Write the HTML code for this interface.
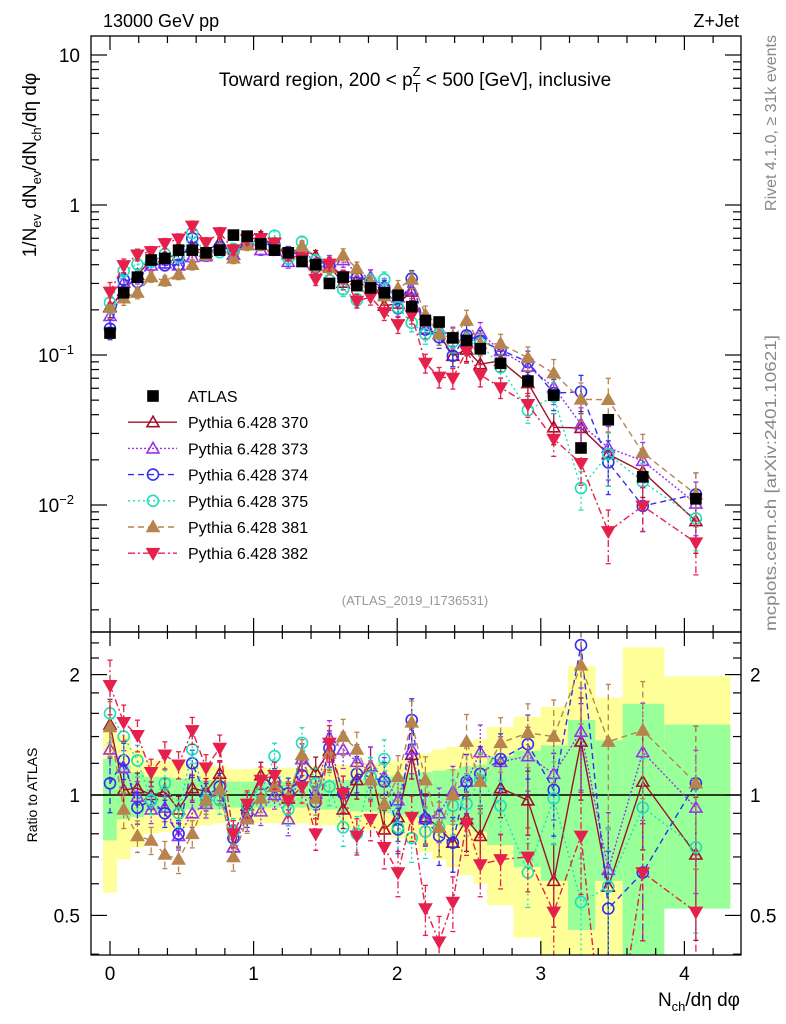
<!DOCTYPE html>
<html><head><meta charset="utf-8"><style>
html,body{margin:0;padding:0;background:#fff;overflow:hidden;width:786px;height:1024px;}
svg{display:block;font-family:"Liberation Sans",sans-serif;}
</style></head><body>
<svg id="c" width="786" height="1024" viewBox="0 0 786 1024" xmlns="http://www.w3.org/2000/svg">
<defs>
<clipPath id="cm"><rect x="91" y="36" width="650" height="596"/></clipPath>
<clipPath id="cr"><rect x="91" y="632" width="650" height="323"/></clipPath>
</defs>
<g id="bands" clip-path="url(#cr)"></g>
<g id="ratio" clip-path="url(#cr)"></g>
<g id="main" clip-path="url(#cm)"></g>
<g id="axes"></g>
<text x="103" y="27" font-size="18">13000 GeV pp</text>
<text x="739" y="27" font-size="18" text-anchor="end">Z+Jet</text>
<text x="415" y="86" font-size="19" text-anchor="middle">Toward region, 200 &lt; p<tspan font-size="13" dy="6">T</tspan><tspan font-size="13" dx="-8" dy="-16">Z</tspan><tspan dy="10"> &lt; 500 [GeV], inclusive</tspan></text>
<text x="415" y="605" font-size="13" fill="#999" text-anchor="middle">(ATLAS_2019_I1736531)</text>
<text transform="translate(776,35) rotate(-90)" font-size="16" fill="#888" text-anchor="end">Rivet 4.1.0, ≥ 31k events</text>
<text transform="translate(776,631) rotate(-90)" font-size="16" fill="#888" textLength="296" lengthAdjust="spacingAndGlyphs">mcplots.cern.ch [arXiv:2401.10621]</text>
<text transform="translate(36,165) rotate(-90)" font-size="19" text-anchor="middle">1/N<tspan font-size="13" dy="5">ev</tspan><tspan dy="-5"> dN</tspan><tspan font-size="13" dy="5">ev</tspan><tspan dy="-5">/dN</tspan><tspan font-size="13" dy="5">ch</tspan><tspan dy="-5">/dη dφ</tspan></text>
<text transform="translate(37,795) rotate(-90)" font-size="14" text-anchor="middle">Ratio to ATLAS</text>
<text x="740" y="1006" font-size="19" text-anchor="end">N<tspan font-size="13" dy="5">ch</tspan><tspan dy="-5">/dη dφ</tspan></text>
<g id="legend"></g>
</svg>
<script>
const xNarrow = Array.from({length:28},(_,i)=>i*0.0955);
const xCenters = xNarrow.concat([2.72,2.91,3.09,3.28,3.47,3.71,4.08]);
const atlas = [0.14,0.26,0.33,0.43,0.44,0.50,0.50,0.48,0.50,0.63,0.62,0.55,0.50,0.48,0.42,0.40,0.30,0.33,0.29,0.28,0.26,0.25,0.21,0.17,0.166,0.13,0.125,0.11,0.088,0.067,0.054,0.024,0.037,0.0154,0.011];
const r370 = [1.50,1.03,1.04,1.0,1.02,0.92,1.04,1.02,1.13,0.74,0.94,1.12,1.05,0.98,1.23,1.14,1.29,0.92,1.09,1.18,0.82,0.88,1.26,0.88,0.83,0.76,0.87,0.79,1.04,0.97,0.61,1.36,0.59,1.08,0.71];
const r373 = [1.30,1.17,0.99,0.92,0.93,0.79,0.90,0.95,1.03,0.74,0.88,0.91,1.0,0.87,1.23,1.01,1.39,1.30,1.21,1.18,1.11,0.97,1.30,0.87,0.90,1.02,1.08,1.28,1.21,1.25,1.13,1.44,0.65,1.28,0.93];
const r374 = [1.07,1.22,0.93,0.97,0.90,0.80,1.20,0.99,1.05,0.78,0.90,1.01,1.08,1.01,1.12,0.96,1.31,1.01,1.13,1.11,1.08,0.82,1.54,0.87,0.79,0.76,1.08,1.13,1.23,1.34,1.03,2.37,0.52,0.64,1.07];
const r375 = [1.60,1.40,1.22,0.97,1.07,0.90,1.30,0.97,0.97,0.81,0.94,1.01,1.25,0.92,1.35,1.07,1.05,0.83,0.80,1.11,1.23,0.83,0.78,0.81,0.83,0.94,0.95,1.09,0.94,0.64,0.98,0.54,0.59,0.93,0.74];
const r381 = [1.48,0.92,0.79,0.77,0.71,0.69,0.80,0.97,1.03,0.70,0.87,0.98,1.05,0.99,1.26,0.98,1.27,1.40,1.30,1.09,0.95,1.11,1.52,1.09,0.83,1.0,1.36,1.08,1.35,1.43,1.40,2.11,1.36,1.45,1.07];
const r382 = [1.88,1.52,1.41,1.14,1.26,1.19,1.45,1.17,1.31,0.80,0.95,1.09,1.12,0.97,1.05,0.80,1.35,1.01,0.79,0.87,0.74,0.64,0.88,0.52,0.43,0.54,0.85,0.67,0.69,0.70,0.51,0.79,0.18,0.64,0.51];
const relErr = [0.12,0.08,0.07,0.06,0.06,0.06,0.06,0.06,0.06,0.06,0.06,0.06,0.06,0.07,0.07,0.07,0.08,0.08,0.08,0.09,0.09,0.1,0.1,0.11,0.12,0.12,0.13,0.13,0.12,0.14,0.18,0.22,0.3,0.25,0.3];
const yellowHi = [1.45,1.41,1.30,1.22,1.22,1.21,1.2,1.19,1.18,1.16,1.16,1.17,1.17,1.17,1.17,1.18,1.18,1.19,1.2,1.2,1.21,1.22,1.24,1.27,1.3,1.32,1.35,1.38,1.48,1.57,1.66,2.1,1.75,2.34,1.98];
const yellowLo = [0.57,0.69,0.74,0.80,0.81,0.82,0.83,0.84,0.85,0.86,0.86,0.85,0.85,0.85,0.85,0.84,0.84,0.83,0.82,0.82,0.80,0.78,0.76,0.72,0.69,0.66,0.63,0.60,0.53,0.44,0.38,0.38,0.38,0.38,0.53];
const greenHi = [1.23,1.19,1.14,1.11,1.11,1.10,1.10,1.09,1.09,1.08,1.08,1.08,1.08,1.08,1.08,1.09,1.09,1.09,1.1,1.1,1.11,1.12,1.13,1.14,1.15,1.16,1.18,1.19,1.25,1.29,1.33,1.54,1.37,1.69,1.5];
const greenLo = [0.77,0.87,0.88,0.91,0.91,0.91,0.92,0.92,0.92,0.93,0.93,0.93,0.93,0.93,0.93,0.92,0.92,0.92,0.91,0.91,0.90,0.89,0.88,0.87,0.85,0.84,0.83,0.81,0.75,0.66,0.61,0.46,0.61,0.38,0.52];
const binEdges = Array.from({length:29},(_,i)=>(i-0.5)*0.0955).concat([2.81,3.0,3.19,3.38,3.57,3.86,4.32]);

const NS='http://www.w3.org/2000/svg';
const X = v => 110 + v*143.6;
const YM = v => 205 - 150*Math.log10(v);
const YR = r => 795 - 400*Math.log10(r);
function mk(tag, attrs, parent){const e=document.createElementNS(NS,tag);for(const k in attrs)e.setAttribute(k,attrs[k]);parent.appendChild(e);return e;}

const series = [
 {name:'370',ratio:r370,color:'#a0102a',dash:'',marker:'tri',fill:false},
 {name:'373',ratio:r373,color:'#9933ee',dash:'2,2',marker:'tri',fill:false},
 {name:'374',ratio:r374,color:'#3030ee',dash:'6,4',marker:'circ',fill:false},
 {name:'375',ratio:r375,color:'#20ddbb',dash:'2,3',marker:'circ',fill:false},
 {name:'381',ratio:r381,color:'#b8844e',dash:'6,4',marker:'tri',fill:true},
 {name:'382',ratio:r382,color:'#e6204c',dash:'7,3,2,3',marker:'dtri',fill:true}
];
function marker(g,type,x,y,color,fill){
  let e;
  if(type==='tri') e=mk('path',{d:`M${x},${y-6} L${x+6},${y+4.5} L${x-6},${y+4.5} Z`},g);
  else if(type==='dtri') e=mk('path',{d:`M${x},${y+6} L${x+6},${y-4.5} L${x-6},${y-4.5} Z`},g);
  else if(type==='circ') e=mk('circle',{cx:x,cy:y,r:5.5},g);
  else e=mk('rect',{x:x-5,y:y-5,width:10,height:10},g);
  e.setAttribute('fill',fill?color:'none');
  e.setAttribute('stroke',color);
  e.setAttribute('stroke-width','1.6');
  return e;
}

const bands=document.getElementById('bands');
for(let i=0;i<xCenters.length;i++){
  const x0=X(binEdges[i]), x1=X(binEdges[i+1]);
  const y=mk('rect',{x:x0,y:YR(yellowHi[i]),width:x1-x0,height:YR(yellowLo[i])-YR(yellowHi[i]),fill:'#ffff99'},bands);
  
  
  const g=mk('rect',{x:x0,y:YR(greenHi[i]),width:x1-x0,height:YR(greenLo[i])-YR(greenHi[i]),fill:'#99ff99'},bands);
  
  
}
const one=mk('line',{x1:91,x2:741,y1:YR(1),y2:YR(1),stroke:'#000','stroke-width':1.5},bands);



const mainG=document.getElementById('main'), ratG=document.getElementById('ratio');
series.forEach(s=>{
  [[mainG,i=>YM(atlas[i]*s.ratio[i])],[ratG,i=>YR(s.ratio[i])]].forEach(([par,yf],pi)=>{
    const g=mk('g',{},par);
    
    
    const pts=xCenters.map((x,i)=>X(x)+','+yf(i)).join(' ');
    mk('polyline',{points:pts,fill:'none',stroke:s.color,'stroke-width':1.4,'stroke-dasharray':s.dash},g);
    xCenters.forEach((x,i)=>{
      const v = pi? s.ratio[i] : atlas[i]*s.ratio[i];
      const yf2 = pi? YR : YM;
      const e=relErr[i]*1.3;
      mk('line',{x1:X(x),x2:X(x),y1:yf2(v*(1+e)),y2:yf2(Math.max(v*(1-e),1e-4)),stroke:s.color,'stroke-width':1.3,'stroke-dasharray':s.dash},g);
      mk('line',{x1:X(x)-2.5,x2:X(x)+2.5,y1:yf2(v*(1+e)),y2:yf2(v*(1+e)),stroke:s.color,'stroke-width':1.3},g);
      mk('line',{x1:X(x)-2.5,x2:X(x)+2.5,y1:yf2(v*(1-e)),y2:yf2(v*(1-e)),stroke:s.color,'stroke-width':1.3},g);
      const m=marker(g,s.marker,X(x),yf(i),s.color,s.fill);
      
      
    });
  });
});
const ag=mk('g',{},mainG);


xCenters.forEach((x,i)=>{
  const m=marker(ag,'sq',X(x),YM(atlas[i]),'#000',true);
  
  
});

const ax=document.getElementById('axes');
mk('rect',{x:91,y:36,width:650,height:596,fill:'none',stroke:'#000','stroke-width':1.3},ax);
mk('rect',{x:91,y:632,width:650,height:323,fill:'none',stroke:'#000','stroke-width':1.3},ax);
for(let k=-1;k<=22;k++){
  const vv=k*0.2, maj=(k%5===0), x=X(vv);
  if(x<92||x>740)continue;
  const L=maj?14:7;
  [[632,-1],[36,1],[955,-1],[632,1]].forEach(([y,d])=>mk('line',{x1:x,x2:x,y1:y,y2:y+d*L,stroke:'#000','stroke-width':1.2},ax));
  if(maj){const t=mk('text',{x:x,y:980,'font-size':19,'text-anchor':'middle'},ax);t.textContent=String(k/5);
    
    }
}
for(let d=-3;d<=1;d++){for(let k=1;k<=9;k++){
  const v=k*Math.pow(10,d), y=YM(v); if(y<37||y>631)continue;
  const L=k===1?16:8;
  mk('line',{x1:91,x2:91+L,y1:y,y2:y,stroke:'#000','stroke-width':1.2},ax);
  mk('line',{x1:741,x2:741-L,y1:y,y2:y,stroke:'#000','stroke-width':1.2},ax);
}}
const yl=[[10,'10',null],[1,'1',null],[0.1,'10','−1'],[0.01,'10','−2']];
yl.forEach(([v,b,e])=>{const t=mk('text',{x:e?74:80,y:YM(v)+7,'font-size':19,'text-anchor':'end'},ax);t.textContent=b;
  if(e){const s=mk('tspan',{'font-size':13,dy:-8},t);s.textContent=e;}
  
  });
[0.4,0.5,0.6,0.7,0.8,0.9,1,1.2,1.4,1.6,1.8,2,2.2,2.4].forEach(r=>{
  const y=YR(r), maj=(r===0.5||r===1||r===2), L=maj?16:8;
  mk('line',{x1:91,x2:91+L,y1:y,y2:y,stroke:'#000','stroke-width':1.2},ax);
  mk('line',{x1:741,x2:741-L,y1:y,y2:y,stroke:'#000','stroke-width':1.2},ax);
  if(maj){
    const t=mk('text',{x:80,y:y+7,'font-size':19,'text-anchor':'end'},ax);t.textContent=String(r);
    
    
    const t2=mk('text',{x:750,y:y+7,'font-size':19},ax);t2.textContent=String(r);
    
    
  }
});

const lg=document.getElementById('legend');
const le=[{label:'ATLAS',sq:true}].concat(series.map(s=>Object.assign({label:'Pythia 6.428 '+s.name},s)));
le.forEach((s,i)=>{
  const y=396+i*26.2;
  const g=mk('g',{},lg);
  
  
  if(s.sq){marker(g,'sq',153,y,'#000',true);}
  else{mk('line',{x1:128,x2:177,y1:y,y2:y,stroke:s.color,'stroke-width':1.4,'stroke-dasharray':s.dash},g);
    marker(g,s.marker,153,y,s.color,s.fill);}
  const t=mk('text',{x:188,y:y+6,'font-size':16},g);t.textContent=s.label;
});
</script>
</body></html>
